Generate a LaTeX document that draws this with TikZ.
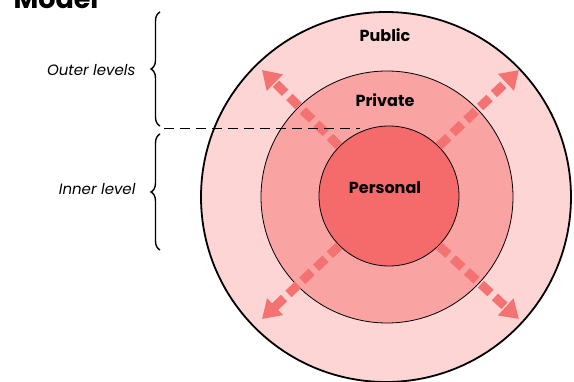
\documentclass[tikz,border=0pt]{standalone}
\usepackage{fontspec}
\setmainfont{Poppins}
\usetikzlibrary{arrows.meta, decorations.pathreplacing}
\definecolor{pubcol}{HTML}{FDD5D5}
\definecolor{privcol}{HTML}{F9A3A3}
\definecolor{perscol}{HTML}{F56B6B}
\definecolor{arrcol}{HTML}{F47272}
\tikzset{
  ring/.style={circle, draw=black, inner sep=0pt},
  flow/.style={draw=arrcol, line width=9pt, dash pattern=on 13pt off 6pt,
    -{Triangle[length=18pt,width=22pt]}},
  side/.style={font=\itshape\fontsize{15}{18}\selectfont, anchor=east},
  title/.style={font=\bfseries\fontsize{16}{18}\selectfont}
}
\begin{document}
\begin{tikzpicture}[x=1pt,y=-1pt]
\useasboundingbox (0,0) rectangle (574,382);
\node[anchor=base west, font=\bfseries\fontsize{27}{30}\selectfont] (model) at (10,9) {Model};
% the three rings
\node[ring, fill=pubcol, line width=1.8pt, minimum size=370pt] (public) at (386,197) {};
\node[ring, fill=privcol, line width=0.8pt, minimum size=252pt] (private) at (387,197) {};
\node[ring, fill=perscol, line width=0.8pt, minimum size=140pt] (personal) at (389,196) {};
\node[title] at (385,35) {Public};
\node[title] at (385,100) {Private};
\node[title] at (385,188) {Personal};
% arrows going out
\coordinate (ul) at (262,70);
\coordinate (ur) at (519,70);
\coordinate (dl) at (262,319);
\coordinate (dr) at (519,319);
\foreach \a/\t in {135/ul, 45/ur, 225/dl, 315/dr}
  \draw[flow] (personal.\a) -- (\t);
% levels
\draw[dash pattern=on 10pt off 6pt, line width=0.9pt] (164,128) -- (360,128);
\draw[decorate, decoration={brace, amplitude=9pt}, line width=1.4pt] (160,126) -- (160,12);
\draw[decorate, decoration={brace, amplitude=9pt}, line width=1.4pt] (160,250) -- (160,134);
\node[side] (outer) at (139,70) {Outer levels};
\node[side] (inner) at (139,189) {Inner level};
\end{tikzpicture}
\end{document}
